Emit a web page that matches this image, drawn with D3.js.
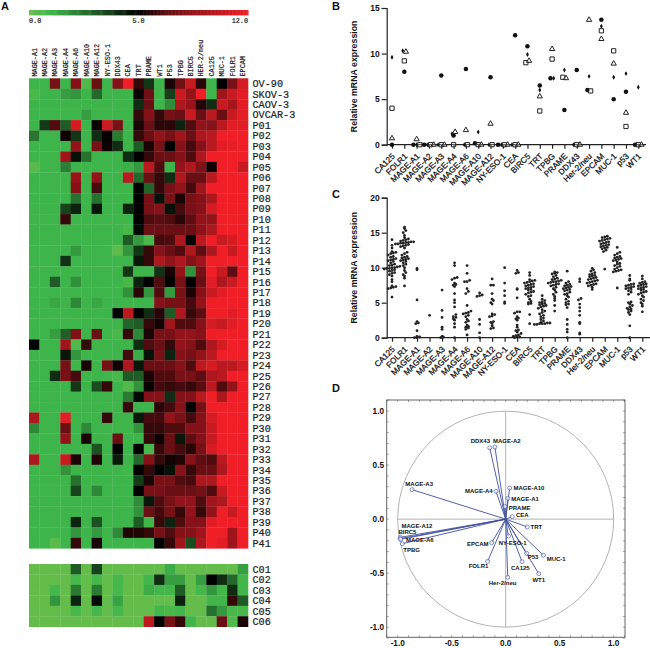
<!DOCTYPE html>
<html>
<head>
<meta charset="utf-8">
<script src="https://cdn.jsdelivr.net/npm/d3@7"></script>
<style>
  html, body { margin: 0; padding: 0; background: #fff; }
  svg { display: block; }
  text { font-family: "Liberation Sans", Arial, sans-serif; fill: #111; }
  .mono { font-family: "Liberation Mono", monospace; fill: #222; stroke: #222; stroke-width: 0.2; }
  .axis path, .axis line { stroke: #222; stroke-width: 1.2; }
  .axis text { font-weight: bold; font-size: 8.5px; }
  .panel { font-weight: bold; font-size: 11px; }
</style>
</head>
<body>
<div id="chart"></div>
<script>
// heatmap
var heatGenes = ["MAGE-A1","MAGE-A2","MAGE-A3","MAGE-A4","MAGE-A6","MAGE-A10","MAGE-A12","NY-ESO-1","DDX43","CEA","TRT","PRAME","WT1","P53","TPBG","BIRC5","HER-2/neu","CA125","MUC-1","FOLR1","EPCAM"];
var tumorLabels = ["OV-90","SKOV-3","CAOV-3","OVCAR-3","P01","P02","P03","P04","P05","P06","P07","P08","P09","P10","P11","P12","P13","P14","P15","P16","P17","P18","P19","P20","P21","P22","P23","P24","P25","P26","P27","P28","P29","P30","P31","P32","P33","P34","P35","P36","P37","P38","P39","P40","P41"];
var controlLabels = ["C01","C02","C03","C04","C05","C06"];
var tumorValues = [
  [1,1,7.5,1,8,.5,7,1,8,12,6,3.8,1,5.5,7.2,10.5,5.8,1,5,7.5,11],
  [.7,1,1,1.5,1.7,1,2.7,1,1,1,5.2,7.2,1,3.6,10.5,8.5,12,1,9,10.5,11.5],
  [1,1,1,1,1,1,1,1,1,1,4,7,1,1.9,9.5,8.7,5.7,4,10.5,9.3,11.5],
  [1,1,1,1,1,1.5,1,1,1,1,6,8,6,7.5,7,10.5,7,10,7,10.5,11.5],
  [1,3.7,6.5,3,11,1,5.2,10.5,7.5,1,5.5,7,5.8,5.8,4.2,6.5,8.5,8,10,11.5,11.5],
  [2.4,1,1,5.3,3.8,1,4,5.1,2.3,1,6,7,8.5,7.5,9,7,9.5,10,12,12,12],
  [1,1,1,1,8.5,1,7.5,5.2,4,1,3,5.5,7.5,5,8,6.3,8,10,11.5,11.7,12],
  [1,1,1,9,4.6,2.5,1,1,1,4,5,6,7,7,8,6.5,9.5,12,12,12,12],
  [.4,1,1,2.2,1,1,1,1,1,1.1,1.6,10,6.5,1,8.5,9.5,7.8,5.3,12,12,10.5],
  [1,1,1,1,8.7,1,8.5,1,1,10,2.7,7,6,4,9.5,7,7,10,12,12,12],
  [1,1,1,1,8,1,6.3,1,1,1,5,2.8,6,7.5,8.5,6.3,9,12,12,12,12],
  [1,1,1,1,2.5,1,2.5,1,1,1,5,7.5,4.6,7.5,5.5,7.5,8,9.5,12,12,12],
  [1,1,1,3.5,4.2,1,4.5,1,1,4.2,5,7.5,8,4.6,6.3,7.5,8,11,12,12,12],
  [1,1,1,6,1,1,1,1,1,1,5,6.5,6.7,6.5,5.8,6.8,8.5,8.5,12,12,12],
  [1,1,1,1,1,1,1,1,1,.8,4.8,7,7,7,7,7,8.3,9.5,12,12,12],
  [1,1,1,1,1,1,1,1,1,3,1.6,.7,6.3,6.5,9.5,4.9,10,12,10.5,11,12],
  [1,1,1,1,1.6,1,1,1,.2,1.7,3.8,6,8,7,6.5,9.5,6.8,9.5,12,10.5,12],
  [1,1,1,3.9,1,1,1,1,1,1,4.5,6,9.5,8.5,9.5,8,9,12,12,12,12],
  [1,1,1,1,1,1,1,1,1,3.8,1,1,3.9,5.5,8.5,1.8,7.5,12,10.5,6.8,12],
  [1,1,3,1,1.8,1,1,1,1,.7,4.2,5,6.5,5,7.5,5,7,11.5,9.5,10.5,12],
  [1,1,1,1,1,1,1,1,1,1.8,5.8,1.7,6.5,1.6,7.5,5.5,8,10.5,11.5,12,12],
  [1,1,1.3,1,2,1,1.3,1,1,1,1,1,8,7.5,7.5,6.3,8.5,12,12,12,12],
  [1,1,1,1,1,1,1,1,5,10,5,4,5.7,3,9.5,6,6.8,12,12,11.5,12],
  [1,1,1,1,1,1,1,1,1,2.8,3,6,5.4,9,6.5,6.5,8,11,10.5,11.5,12],
  [1,1,1.5,2.9,7.8,1,7,1,.7,6,2,5.5,7.5,7.5,8.5,8.5,8,12,12,12,12],
  [5,1,1,9,.5,6,1,1,1,1,4,6.5,7,6,8.5,8,6.5,9.5,11,12,12],
  [1,1,1,4.5,1.7,1,1,1,1,6.3,1.2,4.6,7.5,4.2,8,7.5,8.5,10,12,12,12],
  [1,1,1,7.5,1,5.5,1,7.5,5.3,9.5,4.5,7,7,7,8,6.5,10,11,10,10,11],
  [1,1,4,7.5,6.3,1,1,1,.8,3,3,5.5,6.5,6.5,7.5,7.5,6.8,9.5,10,12,12],
  [1,1,1,1,3.8,1,3.3,6,1,.5,1.8,5.2,6.3,6,6.3,6,6.7,10,6.5,8.5,12],
  [1,1,1,1,1,1,1,1,1,2.3,4.8,8,8,4,8,8,10,12,9.5,12,12],
  [1,1,1,1,1,1,1,1,1,6,1,1,5.8,6.3,8,4.9,7.5,12,12,12,12],
  [9.5,1,1,11.5,1,1,1,6,1,1,4.5,6.3,6.3,8.5,7.5,6.3,8,11,12,12,12],
  [2,1,1,7,1,2,1,1,1,1,1.8,6,6,6.5,6.5,8,8,10.5,12,12,12],
  [1,1,1,8.5,1,5.5,1,1,7,1,1,6,5.3,7,4.5,6.8,8,10.5,12,12,12],
  [1,1,1,1,1,1,3.2,1,5,1,5,.8,6,7,6.3,5.8,7.5,11,12,12,12],
  [9.5,1,1,10.5,5.5,1,5.6,1,4.4,1,2.7,8,6,5.4,5.6,8,6.8,6.5,10,12,12],
  [1,1,1,1.8,1,1,1,1,1,.9,5,6,5,4.6,8,6,7,7,9.5,12,12],
  [1,1,1,1,2.5,1,1,1,1,1,3.7,5.5,7.5,7.5,6.5,6.3,9.5,9.5,12,12,12],
  [1,1,1,1,3.5,1,2,1,1,1,5,7.5,7.5,7,7,7,7.5,6.5,10.5,12,12],
  [1,1,1,1,1,1,1,1,1,1,1.9,4.5,6.5,7.5,8.5,8.5,6.5,9,9.5,12,12],
  [1,1,1,1,1,1,1,1,1,1,1.8,7,6.3,7.5,6,8.5,6,8.5,12,10.5,12],
  [1,1,1,1,4.2,1,3.2,1,1,1,3,.9,6,4.2,6.5,8,8,11.5,12,12,12],
  [1,1,1,1,1.7,1,1.6,1,2,5.6,5.6,6,7.5,6.5,8,8,9,12,12,9,12],
  [1,1,.3,1,6,1,5.5,1,1,1,1,1,5,6,9,3.3,9.5,12,11.5,9,12]
];
var controlValues = [
  [0,0,0,0,3,0,3.5,0,0,0,0,0,0,1.2,0,0,0,0,0,0,1.5],
  [0,0,0,0,.8,0,.8,0,.8,0,0,.9,4,1.5,1.5,0,1.5,5,4,2.7,.9],
  [0,0,.8,0,2.3,0,2.3,0,.8,0,0,1.2,.9,.9,3,0,.8,1.7,.9,4,.9],
  [0,0,1.7,0,4.2,0,4.8,0,1.4,0,0,0,0,0,4.3,0,0,.9,.9,6,3],
  [0,0,0,0,.8,0,.8,0,.8,0,0,0,.9,.7,.9,0,0,2.5,1.6,.7,.7],
  [0,0,0,0,0,0,0,0,0,0,0,10,5,7.5,6,1,0,0,7,.5,5.5]
];

// panel B
var genes = ["CA125","FOLR1","MAGE-A1","MAGE-A2","MAGE-A3","MAGE-A4","MAGE-A6","MAGE-A10","MAGE-A12","NY-ESO-1","CEA","BIRC5","TRT","TPBG","PRAME","DDX43","Her-2/neu","EPCAM","MUC-1","p53","WT1"];
var circleValues   = [0,8,0,0,7.6,1,8.3,.15,7.4,0,12,10.8,6.5,7.3,3.8,8.2,6,13.7,5,5.8,0];
var diamondValues  = [9.6,10.3,0,0,0,1.2,0,1.4,0,0,0,9.9,6,7.3,8.2,0,7.5,13,7.4,7.8,6.3];
var squareValues   = [4,9.2,0,0,0,0,0,0,0,0,0,9,3.7,9.4,7.4,0,5.9,12.5,10.3,2,0];
var triangleValues = [.7,10.2,.6,0,0,1.4,1.6,0,2.3,0,0,9.2,5.3,10.5,7.3,0,13.7,11.6,8.9,3.5,0];

// panel C
var swarmValues = [
  [5.8,7,7.1,7.2,7.3,7.4,8,8.3,8.8,9,9.2,9.3,9.5,9.6,9.7,9.8,9.9,9.9,10,10,10.1,10.2,10.3,10.4,10.5,10.7,10.9,11,11.1,11.2,11.3,11.5,11.6,11.8,12,12.1,12.2,12.3,12.8,13.2,14],
  [7.4,8.5,8.8,9,9.3,9.6,10,10.3,10.5,10.7,10.9,11,11.1,11.2,11.3,11.4,11.5,11.6,11.8,12,12.2,12.8,13,13.1,13.2,13.3,13.4,13.4,13.5,13.5,13.6,13.6,13.7,13.7,13.8,13.9,14,14.1,14.3,14.6,15,15.3,15.6,15.8],
  [0,0,.1,.2,1,2,2.1,2.3,5.4,9.7,9.9],
  [3.2],
  [0,.1,.2,1.2,1.5,2.9,3.9,6.8],
  [0,1.5,2,2.5,2.7,2.9,3,3.3,4.4,5,5.4,6.3,7.3,7.5,7.6,7.8,8.3,8.5,8.6,10.3,10.7],
  [.4,1.2,1.4,1.5,1.6,1.8,2.2,2.4,2.6,3,3.2,3.4,3.5,3.6,3.8,4.6,6.3,6.6,7,8,8,8.2,9.2,10.3],
  [0,.7,1.9,2.6,5.9,6,6.1,6.4],
  [1.3,1.4,1.7,2,2.2,2.3,3,3.1,3.3,3.4,4.8,5,5.3,5.5,6.3,7.5,7.5,8.4],
  [4.9,5.1,6,6.7,7.8,10],
  [0,.1,.1,.2,.3,.4,.6,.8,1,1.1,1.5,1.8,2.5,2.7,2.8,3,3.5,3.7,3.7,5.7,6.9,7,9.2,9.3,9.6],
  [2,3.3,4.8,4.9,5,5.2,5.5,5.9,6,6.2,6.4,6.5,6.6,6.8,6.9,7,7.1,7.2,7.3,7.4,7.5,7.6,7.7,7.8,7.9,8,8.1,8.2,8.3,8.9,9.3],
  [1.9,1.9,2,2,2,2.1,2.1,2.2,2.4,2.6,2.8,3,3.2,3.4,3.6,3.8,4,4.2,4.4,4.5,4.6,4.7,4.8,4.9,5,5.1,5.3,5.5,6],
  [3.8,4.6,5.3,5.6,5.9,6.2,6.5,6.8,7,7.2,7.4,7.5,7.6,7.7,7.8,7.9,8,8,8.1,8.2,8.3,8.4,8.5,8.7,8.9,9.1,9.2,9.3,9.4],
  [0,.8,1.2,1.9,2.6,4.3,4.7,4.8,5,5.2,5.5,5.8,6,6.2,6.3,6.5,6.7,6.8,6.9,7,7.1,7.2,7.3,7.4,7.5,7.6,7.8,8,9.5],
  [.5,.7,2,2.2,3.2,3.8,4.3,4.8,5.4,5.6,8,8.4],
  [6.9,7.2,7.4,7.5,7.6,7.7,7.8,7.9,8,8.1,8.2,8.3,8.4,8.5,8.6,8.7,8.8,8.9,9,9.1,9.3,9.5,9.7,9.9],
  [9.8,12.3,12.5,12.7,12.8,12.9,13,13.1,13.2,13.3,13.4,13.5,13.6,13.7,13.8,13.9,14,14.1,14.2,14.3,14.4,14.5],
  [7.1,9.4,9.5,9.6,9.7,9.8,10,10.2,10.3,10.5,10.6,10.8,11,11.1,11.2,11.3,11.4,11.5,11.6,11.8,12,12.2,12.9],
  [0,1.7,3.3,3.6,3.8,4,4.1,4.2,4.4,4.6,4.8,5,5.1,6.2,6.5,6.7,6.9,7,7.1,7.2,7.3,7.4,7.5,7.6,7.7,8.2,8.4,8.9],
  [3.7,4.5,4.8,5,5.3,5.5,5.8,6,6.2,6.4,6.5,6.6,6.8,6.9,7,7.1,7.2,7.3,7.4,7.5,7.6,7.7,7.8,7.9,8,8.4,8.8]
];

// panel D
var loadingNames = ["MAGE-A2","DDX43","MAGE-A3","MAGE-A4","MAGE-A10","MAGE-A1","PRAME","CEA","TRT","NY-ESO-1","EPCAM","P53","MUC-1","CA125","FOLR1","WT1","Her-2/neu","MAGE-A12","BIRC5","MAGE-A6","TPBG"];
var loadingX = [-.10,-.148,-.867,-.09,.037,.02,-.006,.06,.2,.025,-.13,.194,.349,.151,-.167,.306,.019,-.975,-.978,-.972,-.957];
var loadingY = [.667,.66,.273,.257,.288,.193,.116,.023,-.072,-.156,-.217,-.316,-.334,-.393,-.39,-.504,-.538,-.168,-.18,-.186,-.227];
// where each name sits next to its point
var nudgeX = [-2,-19,-6.7,-31,3.7,3.3,3.7,3.7,3.3,-9.7,-24.7,1,3.3,-11,-19,-6.3,-19,1,-1.7,5.3,1];
var nudgeY = [-6.3,-7,-5.7,0,.3,.3,1,-2,0,6.7,1.7,4,3.3,6,5,6.7,5.3,-11.3,-6.7,.7,6];

var svg = d3.select("#chart").append("svg")
    .attr("width", 650)
    .attr("height", 648);

// 0 and 12 are the ends of the bar, 5 sits in its middle
var heatColor = d3.scaleLinear()
    .domain([0, 1, 5, 7, 12])
    .range(["#64bd4b", "#3eb54a", "#000000", "#6a0f14", "#f01f27"]);

svg.append("text").attr("class", "panel").attr("x", 1).attr("y", 10).text("A");
svg.append("text").attr("class", "panel").attr("x", 332).attr("y", 10).text("B");
svg.append("text").attr("class", "panel").attr("x", 332).attr("y", 198).text("C");
svg.append("text").attr("class", "panel").attr("x", 332).attr("y", 392).text("D");

// legend bar
var legendX = d3.scaleLinear().domain([0, 5, 12]).range([29, 138.5, 248]);
var legendSteps = d3.range(0, 12, 0.05);
svg.append("g").selectAll("rect")
    .data(legendSteps)
    .enter().append("rect")
      .attr("x", function(d) { return legendX(d); })
      .attr("y", 10)
      .attr("width", function(d) { return legendX(d + 0.05) - legendX(d) + 0.5; })
      .attr("height", 5.3)
      .style("fill", function(d) { return heatColor(d); });
svg.append("g").selectAll("text")
    .data([0, 5, 12])
    .enter().append("text")
      .attr("class", "mono")
      .attr("x", function(d) { return legendX(d); })
      .attr("y", 23)
      .attr("text-anchor", function(d) { return d == 0 ? "start" : d == 12 ? "end" : "middle"; })
      .style("font-size", "6.8px")
      .text(function(d) { return d.toFixed(1); });

var heatX = d3.scaleBand().domain(heatGenes).range([29, 248]);

function drawHeat(labels, values, y0, y1) {
  var heatY = d3.scaleBand().domain(labels).range([y0, y1]);
  var row = svg.append("g").selectAll("g")
      .data(values)
      .enter().append("g");
  row.selectAll("rect")
      .data(function(d, r) { return d.map(function(v, c) { return {r: r, c: c, v: v}; }); })
      .enter().append("rect")
        .attr("x", function(d) { return heatX(heatGenes[d.c]); })
        .attr("y", function(d) { return heatY(labels[d.r]); })
        .attr("width", heatX.bandwidth() + 0.3)
        .attr("height", heatY.bandwidth() + 0.3)
        .style("fill", function(d) { return heatColor(d.v); });
  svg.append("g").selectAll("text")
      .data(labels)
      .enter().append("text")
        .attr("class", "mono")
        .attr("x", 252.5)
        .attr("y", function(d) { return heatY(d) + heatY.bandwidth() / 2; })
        .attr("dy", ".35em")
        .style("font-size", "10.2px")
        .text(function(d) { return d; });
}
drawHeat(tumorLabels, tumorValues, 78.3, 548.3);
drawHeat(controlLabels, controlValues, 564, 626.7);

svg.append("g").selectAll("text")
    .data(heatGenes)
    .enter().append("text")
      .attr("class", "mono")
      .attr("transform", function(d) {
        return "translate(" + (heatX(d) + heatX.bandwidth() / 2 + 2.3) + ",76.5) rotate(-90)";
      })
      .style("font-size", "6.8px")
      .text(function(d) { return d; });

// same value, spread sideways like a prism dot plot
function spread(vals, binSize, step) {
  var groups = d3.group(vals.map(function(v, i) { return {v: v, i: i}; }),
      function(d) { return Math.round(d.v / binSize); });
  var out = [];
  groups.forEach(function(g) {
    g.forEach(function(d, k) {
      out[d.i] = (k - (g.length - 1) / 2) * step;
    });
  });
  return out;
}

function dotAxes(yScale, xScale, ticks, left, right) {
  var yAxis = d3.axisLeft(yScale).tickValues(ticks).tickSize(5).tickPadding(2);
  svg.append("g").attr("class", "axis")
      .attr("transform", "translate(" + left + ",0)")
      .call(yAxis);
  var xAxis = d3.axisBottom(xScale).tickSize(4).tickPadding(2).tickSizeOuter(0);
  var gx = svg.append("g").attr("class", "axis")
      .attr("transform", "translate(0," + yScale(0) + ")")
      .call(xAxis);
  gx.select(".domain").attr("d", "M" + left + ",0H" + right);
  gx.selectAll("text")
      .attr("x", 0)
      .attr("y", 0)
      .attr("dy", ".35em")
      .attr("text-anchor", "end")
      .attr("transform", "translate(1,10) rotate(-45)")
      .style("font-weight", "normal")
      .style("stroke", "#111")
      .style("stroke-width", 0.25)
      .style("font-size", "8.2px");
  var mid = (yScale.range()[0] + yScale.range()[1]) / 2;
  svg.append("text")
      .attr("transform", "translate(" + (left - 30) + "," + mid + ") rotate(-90)")
      .attr("text-anchor", "middle")
      .style("font-weight", "bold")
      .style("font-size", "8.8px")
      .text("Relative mRNA expression");
}

// panel B
var bY = d3.scaleLinear().domain([0, 15]).range([144.7, 8]);
var bX = d3.scalePoint().domain(genes).range([392, 638.3]);
dotAxes(bY, bX, [0, 5, 10, 15], 386.7, 646);

var bPoints = [];
genes.forEach(function(g, i) {
  var vals = [circleValues[i], diamondValues[i], squareValues[i], triangleValues[i]];
  var off = spread(vals, 0.45, 3.2);
  vals.forEach(function(v, s) {
    bPoints.push({gene: g, value: v, series: s, off: off[s]});
  });
});
var bSymbols = [
  d3.symbol().type(d3.symbolCircle).size(16)(),
  d3.symbol().type(d3.symbolDiamond).size(7)(),
  d3.symbol().type(d3.symbolSquare).size(18)(),
  d3.symbol().type(d3.symbolTriangle).size(12)()
];
svg.append("g").selectAll("path")
    .data(bPoints)
    .enter().append("path")
      .attr("transform", function(d) {
        return "translate(" + (bX(d.gene) + d.off) + "," + bY(d.value) + ")";
      })
      .attr("d", function(d) { return bSymbols[d.series]; })
      .style("fill", function(d) { return d.series < 2 ? "#111" : "#fff"; })
      .style("fill-opacity", function(d) { return d.series < 2 ? 1 : 0.3; })
      .style("stroke", "#222")
      .style("stroke-width", function(d) { return d.series < 2 ? 0 : 1; });

// panel C
var cY = d3.scaleLinear().domain([0, 20]).range([337.7, 197.7]);
var cX = d3.scalePoint().domain(genes).range([392, 642.3]);
dotAxes(cY, cX, [0, 5, 10, 15, 20], 386.7, 650);

var cPoints = [];
genes.forEach(function(g, i) {
  var off = spread(swarmValues[i], 0.4, 2.6);
  swarmValues[i].forEach(function(v, k) {
    cPoints.push({gene: g, value: v, off: off[k]});
  });
});
svg.append("g").selectAll("circle")
    .data(cPoints)
    .enter().append("circle")
      .attr("cx", function(d) { return cX(d.gene) + d.off; })
      .attr("cy", function(d) { return cY(d.value); })
      .attr("r", 1.4)
      .style("fill", "#222");

// panel D
var dX = d3.scaleLinear().domain([-1, 1]).range([397.7, 613.7]);
var dY = d3.scaleLinear().domain([-1, 1]).range([627.3, 411]);
var frameLeft = 386.7, frameRight = 625, frameTop = 400, frameBottom = 637.3;

var dMinor = d3.range(-11, 12).map(function(d) { return d / 10; });
var dFrame = svg.append("g");
dFrame.selectAll(".tx")
    .data(dMinor)
    .enter().append("line")
      .attr("x1", function(d) { return dX(d); })
      .attr("x2", function(d) { return dX(d); })
      .attr("y1", frameTop)
      .attr("y2", frameTop + 2)
      .style("stroke", "#666").style("stroke-width", 0.6);
dFrame.selectAll(".bx")
    .data(dMinor)
    .enter().append("line")
      .attr("x1", function(d) { return dX(d); })
      .attr("x2", function(d) { return dX(d); })
      .attr("y1", frameBottom - 2)
      .attr("y2", frameBottom)
      .style("stroke", "#666").style("stroke-width", 0.6);
dFrame.selectAll(".ly")
    .data(dMinor)
    .enter().append("line")
      .attr("y1", function(d) { return dY(d); })
      .attr("y2", function(d) { return dY(d); })
      .attr("x1", frameLeft)
      .attr("x2", frameLeft + 2)
      .style("stroke", "#666").style("stroke-width", 0.6);
dFrame.selectAll(".ry")
    .data(dMinor)
    .enter().append("line")
      .attr("y1", function(d) { return dY(d); })
      .attr("y2", function(d) { return dY(d); })
      .attr("x1", frameRight - 2)
      .attr("x2", frameRight)
      .style("stroke", "#666").style("stroke-width", 0.6);
dFrame.append("rect")
    .attr("x", frameLeft)
    .attr("y", frameTop)
    .attr("width", frameRight - frameLeft)
    .attr("height", frameBottom - frameTop)
    .style("fill", "none")
    .style("stroke", "#555")
    .style("stroke-width", 0.9);

svg.append("circle")
    .attr("cx", dX(0))
    .attr("cy", dY(0))
    .attr("r", dX(1) - dX(0))
    .style("fill", "none")
    .style("stroke", "#aaa")
    .style("stroke-width", 0.9);
svg.append("line")
    .attr("x1", dX(-1)).attr("x2", dX(1))
    .attr("y1", dY(0)).attr("y2", dY(0))
    .style("stroke", "#aaa").style("stroke-width", 0.9);
svg.append("line")
    .attr("x1", dX(0)).attr("x2", dX(0))
    .attr("y1", dY(1)).attr("y2", dY(-1))
    .style("stroke", "#aaa").style("stroke-width", 0.9);

var dTicks = [-1, -0.5, 0, 0.5, 1];
svg.append("g").selectAll("text")
    .data(dTicks)
    .enter().append("text")
      .attr("x", function(d) { return dX(d); })
      .attr("y", 646)
      .attr("text-anchor", "middle")
      .style("font-weight", "bold")
      .style("font-size", "8.2px")
      .text(function(d) { return d.toFixed(1); });
svg.append("g").selectAll("text")
    .data(dTicks)
    .enter().append("text")
      .attr("x", 384)
      .attr("y", function(d) { return dY(d); })
      .attr("dy", ".35em")
      .attr("text-anchor", "end")
      .style("font-weight", "bold")
      .style("font-size", "8.2px")
      .text(function(d) { return d.toFixed(1); });

svg.append("g").selectAll("line")
    .data(loadingNames)
    .enter().append("line")
      .attr("x1", dX(0))
      .attr("y1", dY(0))
      .attr("x2", function(d, i) { return dX(loadingX[i]); })
      .attr("y2", function(d, i) { return dY(loadingY[i]); })
      .style("stroke", "#3f4f9c")
      .style("stroke-width", 0.9);
svg.append("g").selectAll("circle")
    .data(loadingNames)
    .enter().append("circle")
      .attr("cx", function(d, i) { return dX(loadingX[i]); })
      .attr("cy", function(d, i) { return dY(loadingY[i]); })
      .attr("r", 2)
      .style("fill", "#fff")
      .style("fill-opacity", 0.6)
      .style("stroke", "#4e5fb0")
      .style("stroke-width", 0.7);
svg.append("g").selectAll("text")
    .data(loadingNames)
    .enter().append("text")
      .attr("x", function(d, i) { return dX(loadingX[i]) + nudgeX[i]; })
      .attr("y", function(d, i) { return dY(loadingY[i]) + nudgeY[i]; })
      .attr("dy", ".35em")
      .style("font-weight", "bold")
      .style("font-size", "6px")
      .text(function(d) { return d; });
</script>
</body>
</html>
